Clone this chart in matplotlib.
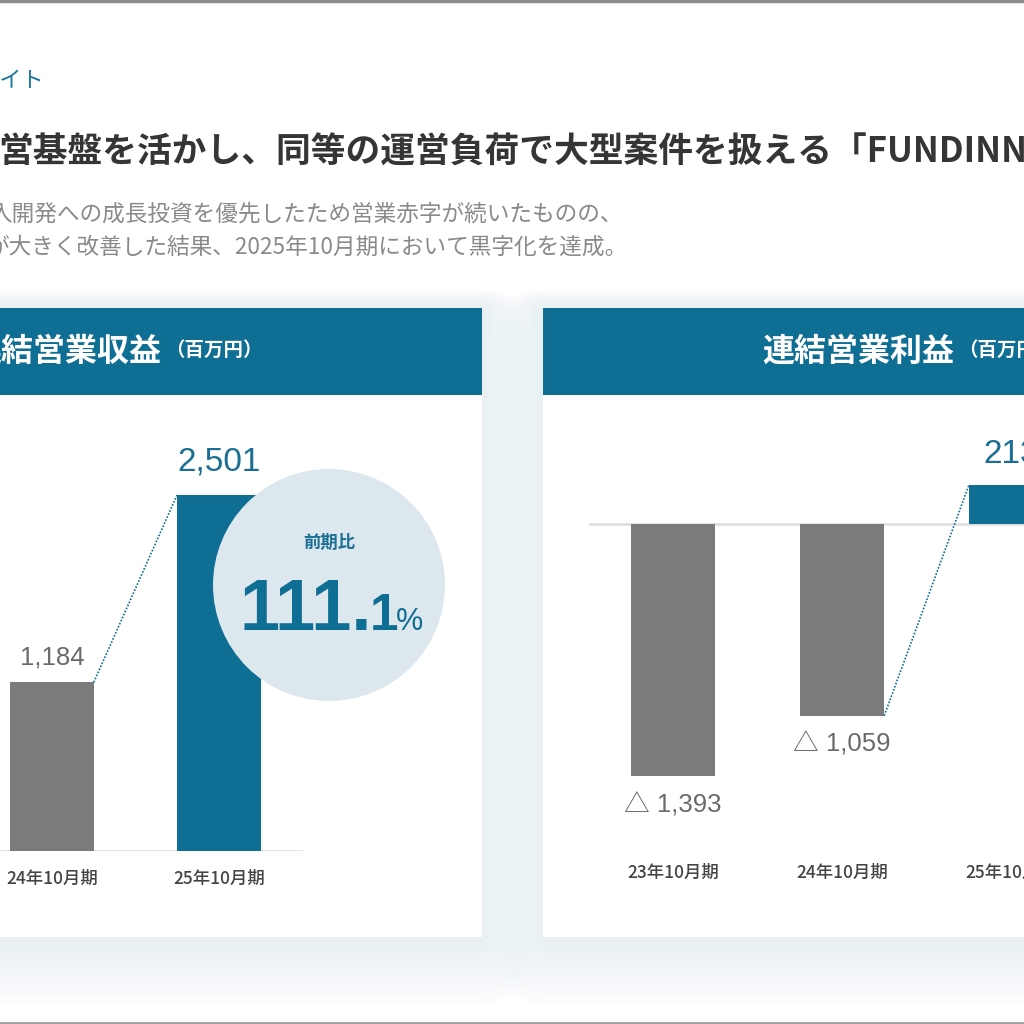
import matplotlib
matplotlib.use("Agg")
import matplotlib.pyplot as plt
import matplotlib.transforms as mtransforms
from matplotlib.patches import Rectangle, Circle, FancyBboxPatch

plt.rcParams['font.family'] = ['Noto Sans CJK JP', 'DejaVu Sans']

# data
rev_periods = ["24年10月期", "25年10月期"]
rev_values = [1184, 2501]
op_periods = ["23年10月期", "24年10月期", "25年10月期"]
op_values = [-1393, -1059, 213]
yoy_text = ("111.", "1", "%")

TEAL = "#0f6e93"
GRAY = "#7b7b7b"
NUMF = ['Liberation Sans', 'Noto Sans CJK JP']

fig = plt.figure(figsize=(10.24, 10.24), dpi=100)
fig.patch.set_facecolor("white")

# page layer in pixel coordinates
bg = fig.add_axes([0, 0, 1, 1], zorder=0)
bg.set_xlim(0, 1024)
bg.set_ylim(1024, 0)
bg.axis("off")

# frame lines at top/bottom of the screenshot
bg.plot([0, 1024], [0.8, 0.8], color="#8c8c8c", lw=2.5)
bg.plot([0, 1024], [1022.5, 1022.5], color="#a0a0a0", lw=2)

# headings (the slide is cropped on the left, so text starts off-canvas)
bg.text(-22, 80, "ライト", color="#1b77a0", fontsize=16, va="center", ha="left")
bg.text(-2, 152, "営基盤を活かし、同等の運営負荷で大型案件を扱える「FUNDINNO",
        color="#353535", fontsize=25, fontweight="bold", va="center", ha="left")
bg.text(-11, 214, "入開発への成長投資を優先したため営業赤字が続いたものの、",
        color="#8a8a8a", fontsize=16.3, va="center", ha="left")
bg.text(-13, 247, "が大きく改善した結果、2025年10月期において黒字化を達成。",
        color="#8a8a8a", fontsize=16.3, va="center", ha="left")

# panels with a soft shadow
panels = [(-250, 482), (543, 1275)]
top, bottom = 308, 937
for x0, x1 in panels:
    for k in range(12, 0, -1):
        pad = k * 4
        bg.add_patch(FancyBboxPatch((x0 - pad, top - pad * 0.4), x1 - x0 + 2 * pad,
                                    bottom - top + pad * 1.8,
                                    boxstyle="round,pad=0,rounding_size=%d" % (pad + 2),
                                    fc="#d3e0ea", ec="none", alpha=0.04, zorder=1))
for x0, x1 in panels:
    bg.add_patch(Rectangle((x0, top), x1 - x0, bottom - top, fc="white", ec="none", zorder=2))
    bg.add_patch(Rectangle((x0, top), x1 - x0, 87, fc=TEAL, ec="none", zorder=3))

t1 = bg.text(-31, 352, "連結営業収益", color="white", fontsize=23, fontweight="bold",
             va="center", ha="left", zorder=4)
bg.annotate("（百万円）", xy=(1, 0.5), xycoords=t1, xytext=(4, 2), textcoords="offset pixels",
            color="white", fontsize=14, fontweight="bold", va="center", ha="left", zorder=4)
t2 = bg.text(762, 352, "連結営業利益", color="white", fontsize=23, fontweight="bold",
             va="center", ha="left", zorder=4)
bg.annotate("（百万円）", xy=(1, 0.5), xycoords=t2, xytext=(4, 2), textcoords="offset pixels",
            color="white", fontsize=14, fontweight="bold", va="center", ha="left", zorder=4)


def px_axes(left, top_px, right, bottom_px):
    ax = fig.add_axes([left / 1024, 1 - bottom_px / 1024,
                       (right - left) / 1024, (bottom_px - top_px) / 1024], zorder=2)
    ax.set_facecolor("none")
    for s in ax.spines.values():
        s.set_visible(False)
    ax.set_xticks([])
    ax.set_yticks([])
    return ax


# left chart: revenue (category index 0 = 23年10月期 lies off-slide)
axL = px_axes(-198.5, 851 - 3000 * 0.1425, 302.5, 851)
axL.set_xlim(-0.5, 2.5)
axL.set_ylim(0, 3000)
axL.axhline(0, color="#e0e0e0", lw=2, zorder=1)
xs = [1, 2]
cols = [GRAY, TEAL]
axL.bar(xs, rev_values, width=0.5, color=cols, zorder=2)
axL.plot([xs[0] + 0.25, xs[1] - 0.25], rev_values, ls=(0, (1, 1)), color=TEAL, lw=1.2, zorder=2)
blendL = mtransforms.blended_transform_factory(axL.transData, bg.transData)
for x, v, lab, c in zip(xs, rev_values, rev_periods, cols):
    big = c == TEAL
    axL.annotate(f"{v:,}", xy=(x, v), xytext=(0, 33 if big else 25), textcoords="offset pixels",
                 ha="center", va="center", fontsize=24 if big else 18.5,
                 color="#1a6f93" if big else "#6a6a6a", family=NUMF)
    axL.text(x, 879, lab, transform=blendL, ha="center", va="center",
             fontsize=12.5, color="#444444", fontweight="medium")

# right chart: operating profit
axR = px_axes(588.5, 524 - 400 * 0.181, 1095.5, 524 + 1600 * 0.181)
axR.set_xlim(-0.5, 2.5)
axR.set_ylim(-1600, 400)
axR.axhline(0, color="#e0e0e0", lw=2, zorder=1)
xr = list(range(len(op_values)))
rcols = [TEAL if v > 0 else GRAY for v in op_values]
axR.bar(xr, op_values, width=0.5, color=rcols, zorder=2)
axR.plot([xr[1] + 0.25, xr[2] - 0.25], op_values[1:], ls=(0, (1, 1)), color=TEAL, lw=1.2, zorder=2)
blendR = mtransforms.blended_transform_factory(axR.transData, bg.transData)
for x, v, lab in zip(xr, op_values, op_periods):
    if v < 0:
        axR.annotate(f"△ {abs(v):,}", xy=(x, v), xytext=(0, -29), textcoords="offset pixels",
                     ha="center", va="center", fontsize=18.5, color="#6a6a6a", family=NUMF)
    else:
        axR.annotate(f"{v:,}", xy=(x, v), xytext=(0, 31), textcoords="offset pixels",
                     ha="center", va="center", fontsize=24, color="#1a6f93", family=NUMF,
                     annotation_clip=False)
    axR.text(x, 873, lab, transform=blendR, ha="center", va="center",
             fontsize=12.5, color="#444444", fontweight="medium", clip_on=False)

# year-on-year badge on top of the revenue bar
ov = fig.add_axes([0, 0, 1, 1], zorder=5)
ov.set_xlim(0, 1024)
ov.set_ylim(1024, 0)
ov.axis("off")
ov.add_patch(Circle((329, 585), 116, fc="#dde7ee", ec="none"))
ov.text(329, 543, "前期比", color="#1a6f93", fontsize=12.5, fontweight="bold",
        ha="center", va="center")
ov.text(240, 630, yoy_text[0], color=TEAL, fontsize=52, fontweight="bold",
        family=NUMF, ha="left", va="baseline")
ov.text(370, 630, yoy_text[1], color=TEAL, fontsize=37, fontweight="bold",
        family=NUMF, ha="left", va="baseline")
ov.text(396, 630, yoy_text[2], color=TEAL, fontsize=22, family=NUMF, ha="left", va="baseline")

fig.savefig("out.png", dpi=100, facecolor="white")
